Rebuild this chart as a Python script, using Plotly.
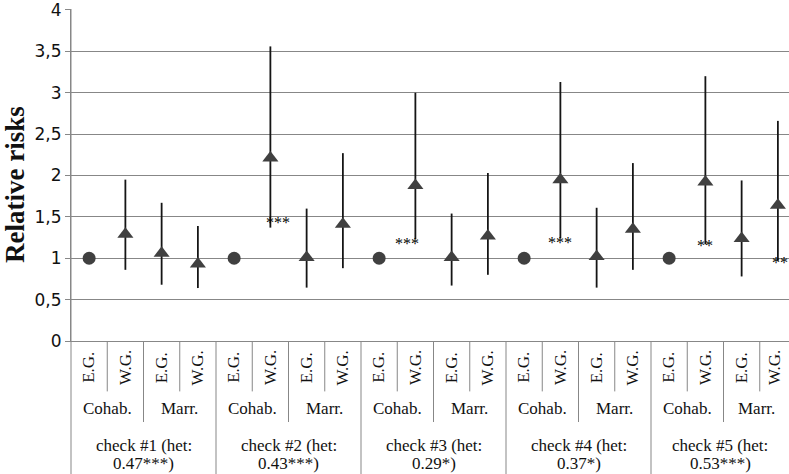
import plotly.graph_objects as go

# ---- data ----
group_labels = ["E.G.", "W.G."] * 10
union_labels = ["Cohab.", "Marr."] * 5
check_labels = [
    "check #1 (het:<br>0.47***)",
    "check #2 (het:<br>0.43***)",
    "check #3 (het:<br>0.29*)",
    "check #4 (het:<br>0.37*)",
    "check #5 (het:<br>0.53***)",
]
rel_risk = [1.00, 1.29, 1.06, 0.93, 1.00, 2.21, 1.01, 1.41, 1.00, 1.88,
            1.01, 1.27, 1.00, 1.95, 1.02, 1.35, 1.00, 1.92, 1.24, 1.64]
ci_upper = [1.00, 1.95, 1.67, 1.39, 1.00, 3.56, 1.60, 2.27, 1.00, 3.00,
            1.54, 2.03, 1.00, 3.13, 1.61, 2.15, 1.00, 3.20, 1.94, 2.66]
ci_lower = [1.00, 0.86, 0.68, 0.64, 1.00, 1.37, 0.645, 0.88, 1.00, 1.23,
            0.67, 0.80, 1.00, 1.24, 0.645, 0.86, 1.00, 1.17, 0.78, 0.97]
signif = ["", "", "", "", "", "***", "", "", "", "***",
          "", "", "", "***", "", "", "", "**", "", "**"]
y_tickvals = [0, 0.5, 1, 1.5, 2, 2.5, 3, 3.5, 4]
y_ticktext = ["0", "0,5", "1", "1,5", "2", "2,5", "3", "3,5", "4"]

# ---- styling / layout constants ----
W, H = 789, 474
ML, MT, MB = 71, 5, 133
plot_h = H - MT - MB
y_top = 4 + 1 / 83.75
cat_px = 36.25
x_max = -0.5 + (W - ML) / cat_px
GRID = "#878787"
MARK = "#404040"
SERIF = "Liberation Serif"
TXT = "#111111"

def py2paper(py):
    return (H - MB - py) / plot_h

n = len(rel_risk)
xs = list(range(n))
ref_idx = [i for i in xs if group_labels[i] == "E.G." and union_labels[i // 2] == "Cohab."]
tri_idx = [i for i in xs if i not in ref_idx]

fig = go.Figure()
fig.add_trace(go.Scatter(
    x=[xs[i] for i in tri_idx], y=[rel_risk[i] for i in tri_idx],
    mode="markers",
    marker=dict(symbol="triangle-up", size=14, color=MARK),
    error_y=dict(type="data", symmetric=False,
                 array=[ci_upper[i] - rel_risk[i] for i in tri_idx],
                 arrayminus=[rel_risk[i] - ci_lower[i] for i in tri_idx],
                 width=0, thickness=1.8, color="#151515"),
    showlegend=False, cliponaxis=False,
))
fig.add_trace(go.Scatter(
    x=[xs[i] for i in ref_idx], y=[rel_risk[i] for i in ref_idx],
    mode="markers",
    marker=dict(symbol="circle", size=13, color=MARK),
    showlegend=False,
))

annotations = []
shapes = []

# significance stars near the lower CI
star_shift = {5: (8, 5), 9: (-8, -4), 13: (0, -4), 17: (0, -1), 19: (2, -2)}
for i, s in enumerate(signif):
    if s:
        dx, dy = star_shift.get(i, (0, 0))
        annotations.append(dict(x=xs[i], y=ci_lower[i], xref="x", yref="y", text=s,
                                showarrow=False, xshift=dx, yshift=dy,
                                xanchor="center", yanchor="middle",
                                font=dict(family=SERIF, size=16, color="#000000")))

def vis_center(a, b):
    return (max(a, -0.5) + min(b, x_max)) / 2

# level 1 labels
for i, lab in enumerate(group_labels):
    annotations.append(dict(x=vis_center(i - 0.5, i + 0.5), y=py2paper(368), xref="x", yref="paper",
                            text=lab, textangle=-90, showarrow=False,
                            xanchor="center", yanchor="middle",
                            font=dict(family=SERIF, size=17, color=TXT)))
# level 2 labels
for j, lab in enumerate(union_labels):
    annotations.append(dict(x=vis_center(2 * j - 0.5, 2 * j + 1.5), y=py2paper(409), xref="x", yref="paper",
                            text=lab, showarrow=False,
                            xanchor="center", yanchor="middle",
                            font=dict(family=SERIF, size=17, color=TXT)))
# level 3 labels (two text lines, each placed on its own row)
line_rows = [447, 465]
for k, lab in enumerate(check_labels):
    for row, part in zip(line_rows, lab.split("<br>")):
        annotations.append(dict(x=vis_center(4 * k - 0.5, 4 * k + 3.5), y=py2paper(row), xref="x", yref="paper",
                                text=part, showarrow=False,
                                xanchor="center", yanchor="middle",
                                font=dict(family=SERIF, size=17, color=TXT)))

# separators
for b in range(1, n):
    xb = b - 0.5
    if b % 4 == 0:
        yb = py2paper(H + 2)
    elif b % 2 == 0:
        yb = py2paper(423)
    else:
        yb = py2paper(392)
    shapes.append(dict(type="line", xref="x", yref="paper", x0=xb, x1=xb, y0=0, y1=yb,
                       line=dict(color=GRID, width=1)))
shapes.append(dict(type="line", xref="paper", yref="paper", x0=0, x1=0, y0=1, y1=py2paper(H + 2),
                   line=dict(color=GRID, width=1)))

# y title
annotations.append(dict(x=-(ML - 15) / (W - ML), y=py2paper(183), xref="paper", yref="paper",
                        text="<b>Relative risks</b>", textangle=-90, showarrow=False,
                        xanchor="center", yanchor="middle",
                        font=dict(family=SERIF, size=27, color=TXT)))

fig.update_layout(
    width=W, height=H,
    margin=dict(l=ML, r=0, t=MT, b=MB, pad=0),
    paper_bgcolor="white", plot_bgcolor="white",
    annotations=annotations, shapes=shapes,
    xaxis=dict(range=[-0.5, x_max], showgrid=False, zeroline=False,
               showticklabels=False, ticks="", showline=True, linecolor=GRID, linewidth=1),
    yaxis=dict(range=[0, y_top], tickvals=y_tickvals, ticktext=y_ticktext,
               showgrid=True, gridcolor=GRID, gridwidth=1, zeroline=False,
               showline=True, linecolor=GRID, linewidth=1,
               ticks="outside", ticklen=5, tickcolor=GRID,
               ticklabeloverflow="allow",
               tickfont=dict(family="DejaVu Sans", size=17, color=TXT)),
)

fig.write_html("out.html", config={"displayModeBar": False},
               post_script="document.body.style.margin='0';document.body.style.overflow='hidden';")
